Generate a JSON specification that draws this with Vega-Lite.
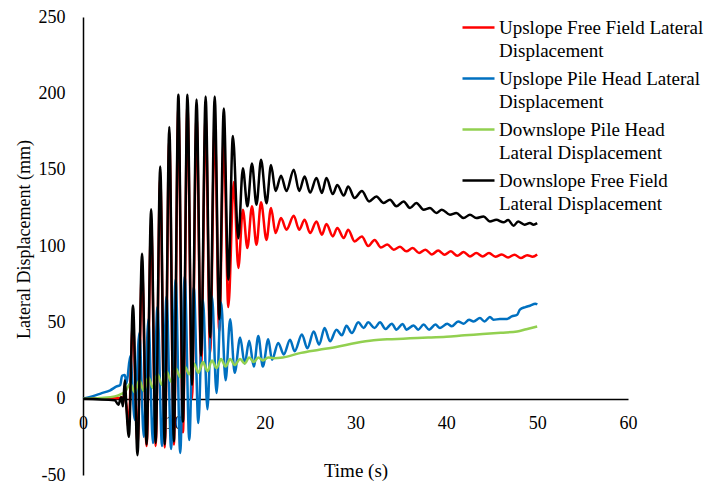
{
  "$schema": "https://vega.github.io/schema/vega-lite/v6.json",
  "width": 545,
  "height": 458,
  "autosize": {"type": "none"},
  "padding": {"left": 83, "top": 17, "right": 76, "bottom": 11},
  "background": "white",
  "config": {"view": {"stroke": null}, "font": "Liberation Serif"},
  "data": {"values": [
    {"s":"A","t":0,"v":0},{"s":"A","t":2,"v":0.2},{"s":"A","t":4,"v":0.5},{"s":"A","t":4.5,"v":1},{"s":"A","t":4.8,"v":-5},{"s":"A","t":5.0,"v":-20},{"s":"A","t":5.5,"v":50},{"s":"A","t":6.0,"v":-30},{"s":"A","t":6.5,"v":85},{"s":"A","t":7.0,"v":-31},{"s":"A","t":7.5,"v":115},{"s":"A","t":8.0,"v":-31},{"s":"A","t":8.5,"v":145},{"s":"A","t":9.0,"v":-32},{"s":"A","t":9.5,"v":170},{"s":"A","t":10.0,"v":-30},{"s":"A","t":10.5,"v":190},{"s":"A","t":11.0,"v":-22},{"s":"A","t":11.5,"v":192},{"s":"A","t":12.0,"v":0},{"s":"A","t":12.5,"v":185},{"s":"A","t":13.0,"v":20},{"s":"A","t":13.5,"v":185},{"s":"A","t":14.0,"v":30},{"s":"A","t":14.5,"v":180},{"s":"A","t":15.0,"v":44},{"s":"A","t":15.5,"v":170},{"s":"A","t":16.0,"v":60},{"s":"A","t":16.6,"v":142},{"s":"A","t":17.1,"v":85.6},{"s":"A","t":17.6,"v":123.8},{"s":"A","t":18.1,"v":98.7},{"s":"A","t":18.6,"v":126},{"s":"A","t":19.1,"v":100.8},{"s":"A","t":19.6,"v":128.6},{"s":"A","t":20.2,"v":104},{"s":"A","t":20.7,"v":124.9},{"s":"A","t":21.2,"v":108.5},{"s":"A","t":21.8,"v":118.3},{"s":"A","t":22.4,"v":110.7},{"s":"A","t":23.2,"v":119.8},{"s":"A","t":23.8,"v":110.7},{"s":"A","t":24.4,"v":117.2},{"s":"A","t":25.0,"v":108.5},{"s":"A","t":25.7,"v":116},{"s":"A","t":26.3,"v":107.4},{"s":"A","t":26.8,"v":114.4},{"s":"A","t":27.5,"v":106.3},{"s":"A","t":28.0,"v":111.8},{"s":"A","t":28.7,"v":105.2},{"s":"A","t":29.2,"v":110.7},{"s":"A","t":29.9,"v":103},{"s":"A","t":30.7,"v":106.3},{"s":"A","t":31.4,"v":100},{"s":"A","t":32.1,"v":104},{"s":"A","t":32.8,"v":99},{"s":"A","t":33.5,"v":101},{"s":"A","t":34.2,"v":97.6},{"s":"A","t":34.9,"v":99.5},{"s":"A","t":35.6,"v":96.5},{"s":"A","t":36.3,"v":98.7},{"s":"A","t":37.0,"v":95.4},{"s":"A","t":37.7,"v":97.6},{"s":"A","t":38.4,"v":94.5},{"s":"A","t":39.1,"v":97},{"s":"A","t":39.8,"v":94.3},{"s":"A","t":40.5,"v":96.5},{"s":"A","t":41.2,"v":93.6},{"s":"A","t":41.9,"v":96},{"s":"A","t":42.6,"v":93.2},{"s":"A","t":43.3,"v":95.4},{"s":"A","t":44.0,"v":93.2},{"s":"A","t":44.7,"v":95.4},{"s":"A","t":45.4,"v":93},{"s":"A","t":46.1,"v":94.5},{"s":"A","t":46.8,"v":92.5},{"s":"A","t":47.5,"v":94.3},{"s":"A","t":48.2,"v":92.1},{"s":"A","t":48.9,"v":94},{"s":"A","t":49.5,"v":93},{"s":"A","t":50.0,"v":94.5},

    {"s":"B","t":0,"v":0},{"s":"B","t":1,"v":1.5},{"s":"B","t":2,"v":3.5},{"s":"B","t":3,"v":5.5},{"s":"B","t":3.7,"v":8},{"s":"B","t":4.1,"v":9},{"s":"B","t":4.3,"v":15},{"s":"B","t":4.6,"v":15.5},{"s":"B","t":4.8,"v":10},{"s":"B","t":5.2,"v":28},{"s":"B","t":5.7,"v":-14},{"s":"B","t":6.2,"v":43},{"s":"B","t":6.7,"v":-25},{"s":"B","t":7.2,"v":52},{"s":"B","t":7.7,"v":-29},{"s":"B","t":8.2,"v":60},{"s":"B","t":8.7,"v":-31},{"s":"B","t":9.2,"v":67},{"s":"B","t":9.7,"v":-33},{"s":"B","t":10.2,"v":78},{"s":"B","t":10.7,"v":-35.6},{"s":"B","t":11.2,"v":80},{"s":"B","t":11.7,"v":-27},{"s":"B","t":12.2,"v":73},{"s":"B","t":12.7,"v":-16},{"s":"B","t":13.2,"v":65},{"s":"B","t":13.7,"v":-7},{"s":"B","t":14.2,"v":67},{"s":"B","t":14.7,"v":3.7},{"s":"B","t":15.2,"v":63},{"s":"B","t":15.7,"v":12},{"s":"B","t":16.2,"v":52},{"s":"B","t":16.7,"v":17},{"s":"B","t":17.3,"v":40},{"s":"B","t":17.8,"v":23},{"s":"B","t":18.3,"v":38},{"s":"B","t":18.8,"v":21},{"s":"B","t":19.3,"v":41},{"s":"B","t":19.8,"v":21},{"s":"B","t":20.4,"v":39},{"s":"B","t":20.8,"v":25.5},{"s":"B","t":21.5,"v":36.5},{"s":"B","t":22.1,"v":29},{"s":"B","t":22.8,"v":38.6},{"s":"B","t":23.3,"v":31},{"s":"B","t":24.1,"v":42},{"s":"B","t":24.7,"v":33},{"s":"B","t":25.4,"v":44},{"s":"B","t":26.0,"v":35.4},{"s":"B","t":26.6,"v":46.3},{"s":"B","t":27.2,"v":37.6},{"s":"B","t":27.9,"v":45.2},{"s":"B","t":28.5,"v":41.5},{"s":"B","t":29.0,"v":47.8},{"s":"B","t":29.6,"v":43},{"s":"B","t":30.3,"v":50},{"s":"B","t":30.9,"v":46.3},{"s":"B","t":31.4,"v":50},{"s":"B","t":32.1,"v":46.3},{"s":"B","t":32.7,"v":50},{"s":"B","t":33.3,"v":45.6},{"s":"B","t":34.0,"v":49.1},{"s":"B","t":34.5,"v":45.2},{"s":"B","t":35.2,"v":48.9},{"s":"B","t":35.6,"v":45.2},{"s":"B","t":36.4,"v":48},{"s":"B","t":36.9,"v":45.2},{"s":"B","t":37.5,"v":48.5},{"s":"B","t":38.1,"v":45.2},{"s":"B","t":38.8,"v":48.5},{"s":"B","t":39.3,"v":46.3},{"s":"B","t":40.1,"v":49.1},{"s":"B","t":40.6,"v":47.4},{"s":"B","t":41.3,"v":50.6},{"s":"B","t":41.9,"v":49.1},{"s":"B","t":42.5,"v":51.7},{"s":"B","t":43.0,"v":50.6},{"s":"B","t":43.7,"v":52.8},{"s":"B","t":44.2,"v":50.6},{"s":"B","t":44.8,"v":53.5},{"s":"B","t":45.2,"v":51.7},{"s":"B","t":45.9,"v":52.2},{"s":"B","t":46.7,"v":52.2},{"s":"B","t":47.2,"v":53.9},{"s":"B","t":47.8,"v":55},{"s":"B","t":48.1,"v":58.3},{"s":"B","t":48.7,"v":60},{"s":"B","t":49.2,"v":60.9},{"s":"B","t":49.8,"v":62.2},{"s":"B","t":50.0,"v":61.6},

    {"s":"C","t":0,"v":0},{"s":"C","t":2,"v":0.5},{"s":"C","t":3.5,"v":1.5},{"s":"C","t":4.2,"v":3},{"s":"C","t":4.7,"v":5},{"s":"C","t":5.2,"v":10},{"s":"C","t":5.7,"v":4},{"s":"C","t":6.2,"v":12},{"s":"C","t":6.7,"v":5},{"s":"C","t":7.2,"v":14},{"s":"C","t":7.7,"v":7},{"s":"C","t":8.2,"v":16},{"s":"C","t":8.7,"v":9},{"s":"C","t":9.2,"v":18},{"s":"C","t":9.7,"v":11},{"s":"C","t":10.2,"v":20},{"s":"C","t":10.7,"v":14},{"s":"C","t":11.2,"v":21},{"s":"C","t":11.7,"v":16},{"s":"C","t":12.2,"v":23},{"s":"C","t":12.7,"v":17},{"s":"C","t":13.2,"v":24},{"s":"C","t":13.7,"v":18},{"s":"C","t":14.2,"v":25},{"s":"C","t":14.7,"v":20},{"s":"C","t":15.2,"v":26},{"s":"C","t":15.7,"v":21},{"s":"C","t":16.2,"v":26},{"s":"C","t":16.7,"v":22},{"s":"C","t":17.3,"v":26},{"s":"C","t":17.8,"v":23},{"s":"C","t":18.3,"v":27},{"s":"C","t":18.8,"v":24},{"s":"C","t":19.3,"v":27},{"s":"C","t":19.8,"v":25},{"s":"C","t":20.4,"v":27},{"s":"C","t":21,"v":26.5},{"s":"C","t":22,"v":27},{"s":"C","t":24,"v":30},{"s":"C","t":26,"v":32},{"s":"C","t":28,"v":34},{"s":"C","t":30,"v":36.5},{"s":"C","t":32,"v":38.3},{"s":"C","t":34,"v":39},{"s":"C","t":36,"v":39.5},{"s":"C","t":38,"v":40},{"s":"C","t":40,"v":40.6},{"s":"C","t":42,"v":41.5},{"s":"C","t":44,"v":42.3},{"s":"C","t":46,"v":43.2},{"s":"C","t":47.8,"v":44},{"s":"C","t":48.8,"v":45.5},{"s":"C","t":50,"v":47.3},

    {"s":"D","t":0,"v":0},{"s":"D","t":3.5,"v":-1},{"s":"D","t":3.9,"v":-4},{"s":"D","t":4.2,"v":1},{"s":"D","t":4.4,"v":-5},{"s":"D","t":4.6,"v":12},{"s":"D","t":4.8,"v":-8},{"s":"D","t":5.05,"v":-25},{"s":"D","t":5.5,"v":61},{"s":"D","t":6.0,"v":-37},{"s":"D","t":6.5,"v":95},{"s":"D","t":7.0,"v":-30},{"s":"D","t":7.5,"v":124},{"s":"D","t":8.0,"v":-29},{"s":"D","t":8.5,"v":152},{"s":"D","t":9.0,"v":-30},{"s":"D","t":9.5,"v":178},{"s":"D","t":10.0,"v":-28},{"s":"D","t":10.5,"v":199},{"s":"D","t":11.0,"v":-15},{"s":"D","t":11.5,"v":199},{"s":"D","t":12.0,"v":9},{"s":"D","t":12.5,"v":196},{"s":"D","t":13.0,"v":28},{"s":"D","t":13.5,"v":198},{"s":"D","t":14.0,"v":40},{"s":"D","t":14.5,"v":198},{"s":"D","t":15.0,"v":52},{"s":"D","t":15.5,"v":190},{"s":"D","t":16.0,"v":78},{"s":"D","t":16.5,"v":172},{"s":"D","t":17.1,"v":105},{"s":"D","t":17.6,"v":151},{"s":"D","t":18.1,"v":126},{"s":"D","t":18.6,"v":154},{"s":"D","t":19.1,"v":127},{"s":"D","t":19.6,"v":156.5},{"s":"D","t":20.2,"v":128},{"s":"D","t":20.7,"v":153},{"s":"D","t":21.2,"v":136},{"s":"D","t":21.8,"v":146},{"s":"D","t":22.4,"v":136},{"s":"D","t":23.2,"v":150},{"s":"D","t":23.8,"v":136},{"s":"D","t":24.4,"v":145.6},{"s":"D","t":25.0,"v":135},{"s":"D","t":25.7,"v":144.5},{"s":"D","t":26.3,"v":134.7},{"s":"D","t":26.8,"v":144.5},{"s":"D","t":27.5,"v":134},{"s":"D","t":28.0,"v":140},{"s":"D","t":28.7,"v":133},{"s":"D","t":29.2,"v":139},{"s":"D","t":29.9,"v":131.4},{"s":"D","t":30.7,"v":136},{"s":"D","t":31.5,"v":129.2},{"s":"D","t":32.3,"v":132.5},{"s":"D","t":33.1,"v":128.2},{"s":"D","t":33.8,"v":130.3},{"s":"D","t":34.5,"v":126},{"s":"D","t":35.3,"v":129.2},{"s":"D","t":36.0,"v":124.9},{"s":"D","t":36.7,"v":128.2},{"s":"D","t":37.5,"v":123.8},{"s":"D","t":38.2,"v":124.9},{"s":"D","t":38.9,"v":121.6},{"s":"D","t":39.5,"v":123.8},{"s":"D","t":40.4,"v":120.5},{"s":"D","t":41.1,"v":121.6},{"s":"D","t":41.9,"v":118.3},{"s":"D","t":42.6,"v":120.5},{"s":"D","t":43.3,"v":118.3},{"s":"D","t":44.1,"v":119.4},{"s":"D","t":44.8,"v":116},{"s":"D","t":45.5,"v":117.2},{"s":"D","t":46.3,"v":115.5},{"s":"D","t":46.8,"v":117},{"s":"D","t":47.4,"v":113.3},{"s":"D","t":47.9,"v":116},{"s":"D","t":48.6,"v":114},{"s":"D","t":49.2,"v":115},{"s":"D","t":49.6,"v":114},{"s":"D","t":50.0,"v":115}
  ]},
  "mark": {"type": "line", "interpolate": "monotone", "strokeWidth": 2.5},
  "encoding": {
    "x": {
      "field": "t", "type": "quantitative",
      "scale": {"domain": [0, 60], "nice": false},
      "axis": {
        "values": [0, 10, 20, 30, 40, 50, 60],
        "offset": -76, "grid": false, "ticks": false, "tickSize": 0, "labelFlush": false,
        "domainColor": "black", "domainWidth": 1.5,
        "labelFont": "Liberation Serif", "labelFontSize": 18, "labelColor": "black", "labelPadding": 15,
        "title": "Time (s)", "titleFont": "Liberation Serif", "titleFontSize": 19, "titleFontWeight": "normal", "titleColor": "black",
        "titleY": 71, "titleBaseline": "middle"
      }
    },
    "y": {
      "field": "v", "type": "quantitative",
      "scale": {"domain": [-50, 250], "nice": false},
      "axis": {
        "values": [-50, 0, 50, 100, 150, 200, 250],
        "labelExpr": "'' + datum.value",
        "grid": false, "ticks": false, "tickSize": 0, "labelFlush": false,
        "domainColor": "black", "domainWidth": 1.5,
        "labelFont": "Liberation Serif", "labelFontSize": 18, "labelColor": "black", "labelPadding": 18,
        "title": "Lateral Displacement (mm)", "titleFont": "Liberation Serif", "titleFontSize": 18, "titleFontWeight": "normal", "titleColor": "black",
        "titleX": -59, "titleY": 222, "titleAngle": 270, "titleAlign": "center", "titleBaseline": "middle"
      }
    },
    "color": {
      "field": "s", "type": "nominal",
      "scale": {"domain": ["A", "B", "C", "D"], "range": ["#FF0000", "#0070C0", "#92D050", "#000000"]},
      "legend": {
        "orient": "none", "legendX": 378, "legendY": -7, "title": null, "padding": 0,
        "symbolType": "stroke", "symbolSize": 1024, "symbolStrokeWidth": 2.5,
        "labelFont": "Liberation Serif", "labelFontSize": 19, "labelColor": "black", "labelLimit": 400, "labelOffset": 3,
        "rowPadding": -1,
        "encode": {"labels": {"update": {"lineHeight": {"value": 23}}}},
        "labelExpr": "datum.value == 'A' ? ['Upslope Free Field Lateral', 'Displacement'] : datum.value == 'B' ? ['Upslope Pile Head Lateral', 'Displacement'] : datum.value == 'C' ? ['Downslope Pile Head', 'Lateral Displacement'] : ['Downslope Free Field', 'Lateral Displacement']"
      }
    }
  }
}
